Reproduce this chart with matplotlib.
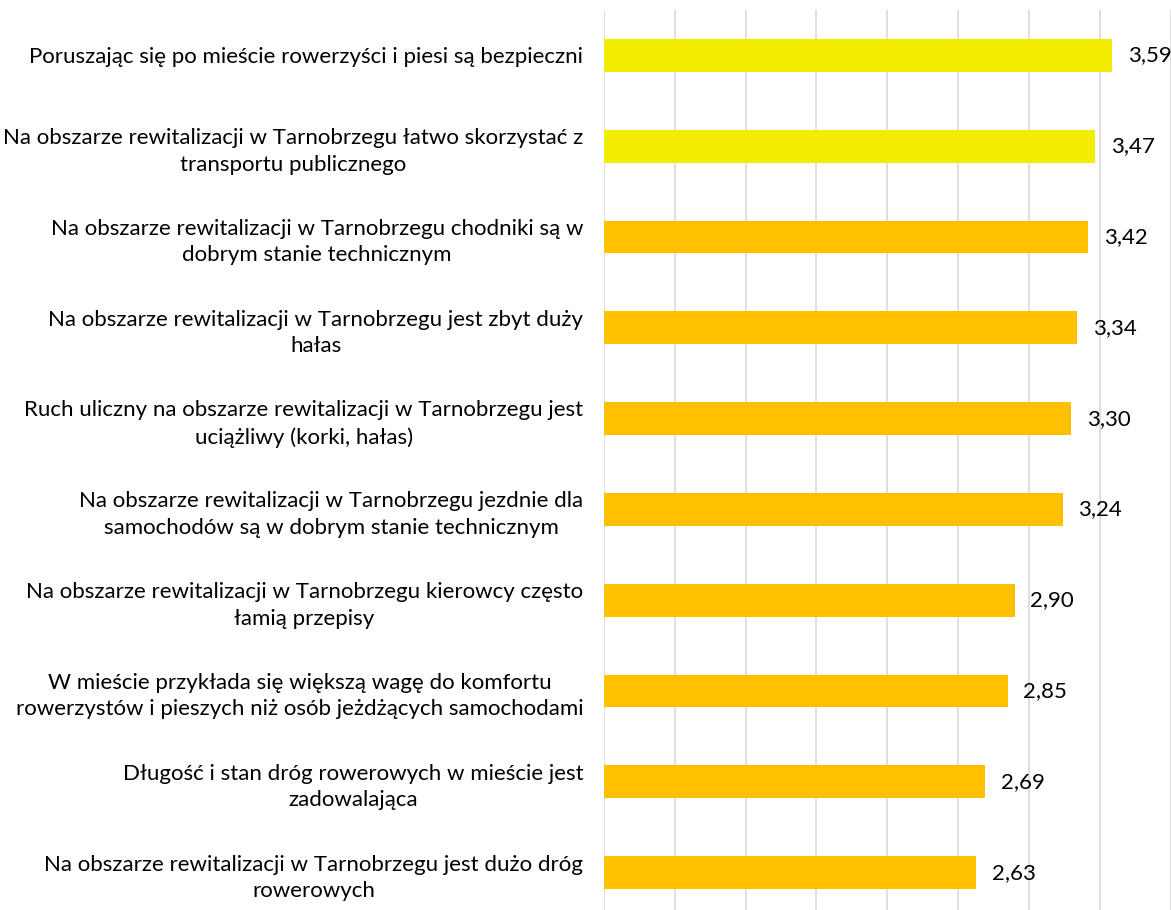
import matplotlib.pyplot as plt
import numpy as np

labels = [
    "Poruszając się po mieście rowerzyści i piesi są bezpieczni",
    "Na obszarze rewitalizacji w Tarnobrzegu łatwo skorzystać z\ntransportu publicznego",
    "Na obszarze rewitalizacji w Tarnobrzegu chodniki są w\ndobrym stanie technicznym",
    "Na obszarze rewitalizacji w Tarnobrzegu jest zbyt duży\nhałas",
    "Ruch uliczny na obszarze rewitalizacji w Tarnobrzegu jest\nuciążliwy (korki, hałas)",
    "Na obszarze rewitalizacji w Tarnobrzegu jezdnie dla\nsamochodów są w dobrym stanie technicznym",
    "Na obszarze rewitalizacji w Tarnobrzegu kierowcy często\nłamią przepisy",
    "W mieście przykłada się większą wagę do komfortu\nrowerzystów i pieszych niż osób jeżdżących samochodami",
    "Długość i stan dróg rowerowych w mieście jest\nzadowalająca",
    "Na obszarze rewitalizacji w Tarnobrzegu jest dużo dróg\nrowerowych",
]
values = [3.59, 3.47, 3.42, 3.34, 3.30, 3.24, 2.90, 2.85, 2.69, 2.63]
highlight = [True, True, False, False, False, False, False, False, False, False]

YELLOW = "#F2EC00"
AMBER = "#FFC000"
FONT = "Lato"
FS = 16

fig = plt.figure(figsize=(11.71, 9.10), dpi=100)
ax = fig.add_axes([604 / 1171, -8 / 910, 566.5 / 1171, 908 / 910])

y = np.arange(len(values))
colors = [YELLOW if h else AMBER for h in highlight]
ax.barh(y, values, height=0.36, color=colors, zorder=3)

ax.set_xlim(0, 4)
ax.set_ylim(len(values) - 0.5, -0.5)
ax.set_xticks(np.arange(0, 4.01, 0.5))
ax.xaxis.grid(True, color="#D9D9D9", lw=1.2, zorder=0)
ax.tick_params(axis="x", length=0, labelbottom=False)
ax.tick_params(axis="y", length=0, pad=15)
ax.set_yticks(y)
ax.set_yticklabels(labels, fontsize=FS, family=FONT, multialignment="center",
                   linespacing=1.4)
for s in ax.spines.values():
    s.set_visible(False)

for yi, v in zip(y, values):
    ax.text(v + 0.11, yi, f"{v:.2f}".replace(".", ","), va="center", ha="left",
            fontsize=FS, family=FONT, color="#000000")

fig.savefig("out.png", dpi=100)
